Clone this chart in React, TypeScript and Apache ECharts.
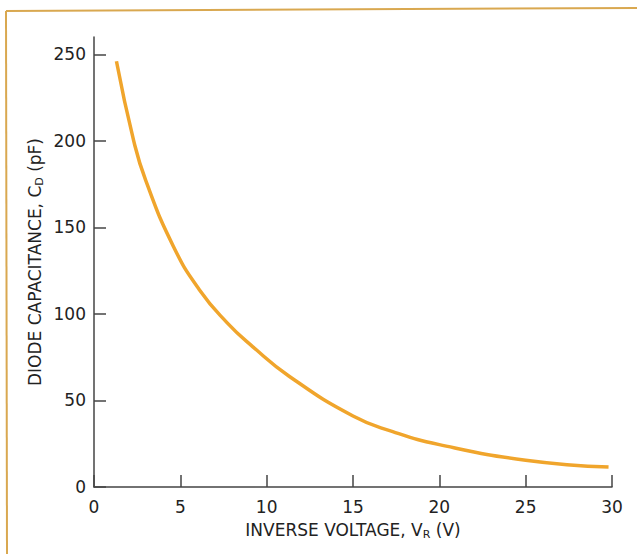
import React, { useEffect, useRef } from "react";
import * as echarts from "echarts";

const voltage = [1.3, 2.3, 3.0, 4.6, 6.1, 7.7, 9.2, 11.3, 15, 17.3, 20, 25, 29.8];
const capacitance = [246, 200, 177, 139, 114, 95, 81, 64, 41, 32, 24.5, 15.5, 11.5];
const xTicks = [0, 5, 10, 15, 20, 25, 30];
const yTicks = [0, 50, 100, 150, 200, 250];

const FONT = "DejaVu Sans";

export default function App() {
  const ref = useRef<HTMLDivElement>(null);
  useEffect(() => {
    if (!ref.current) return;
    const chart = echarts.init(ref.current, null, { renderer: "svg" });
    const data = voltage.map((v, i) => [v, capacitance[i]]);
    chart.setOption({
      animation: false,
      backgroundColor: "#ffffff",
      grid: { left: 94, right: 25, top: 37, bottom: 67 },
      graphic: [
        {
          type: "line",
          shape: { x1: 6, y1: 11, x2: 637, y2: 8 },
          style: { stroke: "#d9a850", lineWidth: 2 },
        },
        {
          type: "line",
          shape: { x1: 6, y1: 11, x2: 7, y2: 554 },
          style: { stroke: "#d9a850", lineWidth: 2 },
        },
      ],
      xAxis: {
        type: "value",
        min: 0,
        max: 30,
        interval: 5,
        name: "INVERSE VOLTAGE, V{sub|R} (V)",
        nameLocation: "middle",
        nameGap: 32,
        nameMoveOverlap: false,
        nameTextStyle: {
          fontFamily: FONT,
          fontSize: 17,
          color: "#222",
          rich: {
            sub: { fontFamily: FONT, fontSize: 11, color: "#222", verticalAlign: "bottom", padding: [10, 0, 0, 0] },
          },
        },
        splitLine: { show: false },
        axisLine: { lineStyle: { color: "#444", width: 1.5 } },
        axisTick: {
          inside: true,
          length: 12,
          lineStyle: { color: "#444", width: 1.5 },
          customValues: xTicks,
        },
        axisLabel: {
          customValues: xTicks,
          fontFamily: FONT,
          fontSize: 17,
          color: "#222",
          margin: 11,
        },
      },
      yAxis: {
        type: "value",
        min: 0,
        max: 260,
        name: "DIODE CAPACITANCE, C{sub|D} (pF)",
        nameLocation: "middle",
        nameGap: 49,
        nameMoveOverlap: false,
        nameTextStyle: {
          fontFamily: FONT,
          fontSize: 17,
          color: "#222",
          rich: {
            sub: { fontFamily: FONT, fontSize: 11, color: "#222", verticalAlign: "bottom", padding: [10, 0, 0, 0] },
          },
        },
        splitLine: { show: false },
        axisLine: { show: true, lineStyle: { color: "#444", width: 1.5 } },
        axisTick: {
          show: true,
          inside: true,
          length: 12,
          lineStyle: { color: "#444", width: 1.5 },
          customValues: yTicks,
        },
        axisLabel: {
          customValues: yTicks,
          fontFamily: FONT,
          fontSize: 17,
          color: "#222",
          margin: 8,
        },
      },
      series: [
        {
          type: "line",
          data,
          showSymbol: false,
          smooth: 0.5,
          lineStyle: { color: "#F0A52C", width: 3.5 },
        },
      ],
    });
    return () => chart.dispose();
  }, []);
  return (
    <div
      ref={ref}
      style={{ position: "fixed", left: 0, top: 0, width: 637, height: 554, background: "#fff" }}
    />
  );
}
